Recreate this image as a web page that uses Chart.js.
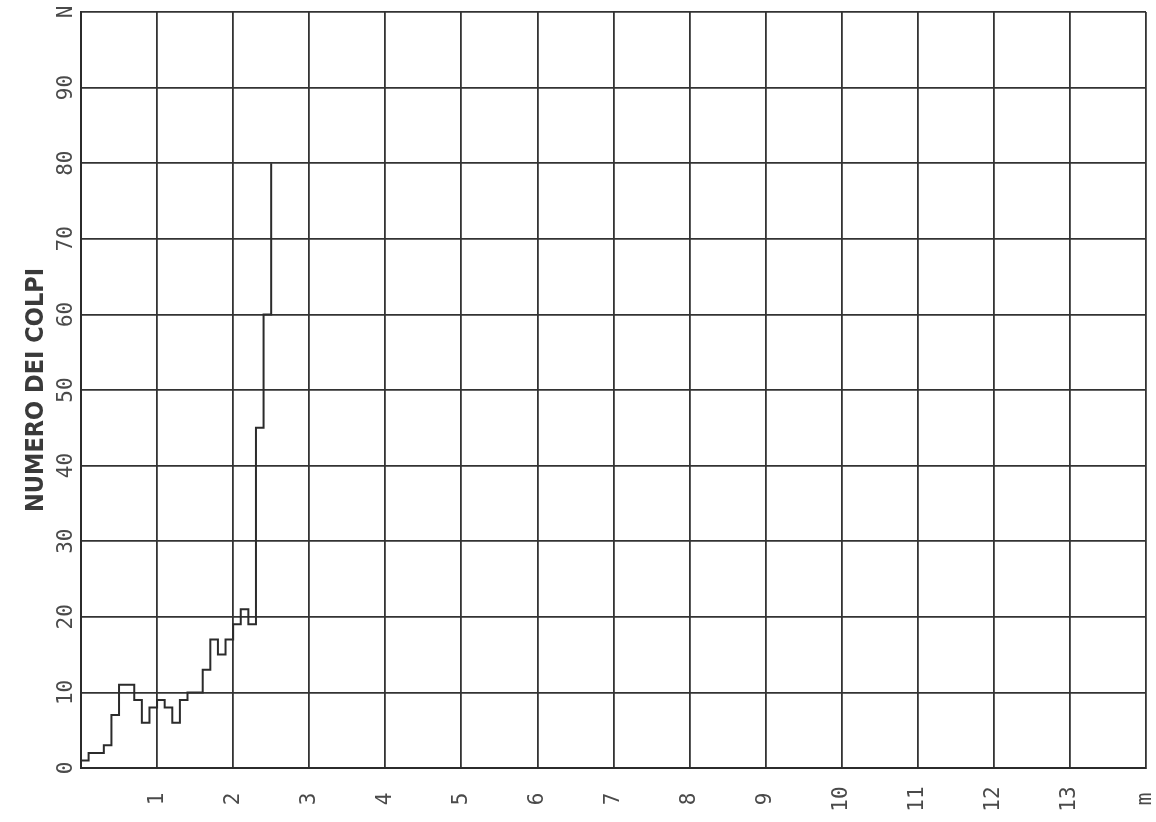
<!DOCTYPE html>
<html>
<head>
<meta charset="utf-8">
<title>Numero dei colpi</title>
<script src="https://cdn.jsdelivr.net/npm/chart.js@4"></script>
<style>
  body { margin: 0; background: #fff; }
  #chart { display: block; }
</style>
</head>
<body>
<canvas id="chart" width="1156" height="822"></canvas>
<script>
// depth (m) and number of blows per step
const depth = [0, 0.1, 0.2, 0.3, 0.4, 0.5, 0.6, 0.7, 0.8, 0.9, 1.0, 1.1, 1.2, 1.3, 1.4, 1.5, 1.6, 1.7, 1.8, 1.9, 2.0, 2.1, 2.2, 2.3, 2.4, 2.5];
const colpi = [1, 2, 2, 3, 7, 11, 11, 9, 6, 8, 9, 8, 6, 9, 10, 10, 13, 17, 15, 17, 19, 21, 19, 45, 60, 80];

// axis labels
const xTickValues = [1, 2, 3, 4, 5, 6, 7, 8, 9, 10, 11, 12, 13, 14];
const xTickLabels = ['1', '2', '3', '4', '5', '6', '7', '8', '9', '10', '11', '12', '13', 'm'];
const yTickValues = [0, 10, 20, 30, 40, 50, 60, 70, 80, 90, 100];
const yTickLabels = ['0', '10', '20', '30', '40', '50', '60', '70', '80', '90', 'N'];
const yTitle = 'NUMERO DEI COLPI';

const points = depth.map((d, i) => ({ x: d, y: colpi[i] }));

// draws the rotated tick labels (chart.js does not rotate y ticks)
const rotatedTicks = {
  id: 'rotatedTicks',
  afterDraw(chart) {
    const ctx = chart.ctx;
    const xs = chart.scales.x;
    const ys = chart.scales.y;
    ctx.save();
    ctx.font = '21px "DejaVu Sans Mono"';
    ctx.fillStyle = '#4a4a4a';
    ctx.textAlign = 'center';
    ctx.textBaseline = 'middle';
    xTickValues.forEach((v, i) => {
      ctx.save();
      ctx.translate(xs.getPixelForValue(v), xs.top + 31);
      ctx.rotate(-Math.PI / 2);
      ctx.fillText(xTickLabels[i], 0, 0);
      ctx.restore();
    });
    yTickValues.forEach((v, i) => {
      ctx.save();
      ctx.translate(ys.right - 14, ys.getPixelForValue(v));
      ctx.rotate(-Math.PI / 2);
      ctx.fillText(yTickLabels[i], 0, 0);
      ctx.restore();
    });
    ctx.restore();
  }
};

new Chart(document.getElementById('chart'), {
  type: 'line',
  data: {
    datasets: [{
      data: points,
      stepped: true,
      borderColor: '#2b2b2b',
      borderWidth: 2,
      pointRadius: 0,
      fill: false
    }]
  },
  options: {
    responsive: false,
    animation: false,
    layout: { padding: { top: 12, right: 10, left: 0, bottom: 0 } },
    plugins: {
      legend: { display: false },
      tooltip: { enabled: false }
    },
    scales: {
      x: {
        type: 'linear',
        min: 0,
        max: 14,
        ticks: { display: false, stepSize: 1 },
        grid: { color: '#333', lineWidth: 1.8, drawTicks: false },
        border: { color: '#2b2b2b', width: 2 },
        afterFit: (scale) => { scale.height = 54; }
      },
      y: {
        type: 'linear',
        min: 0,
        max: 100,
        ticks: { display: false, stepSize: 10 },
        grid: { color: '#333', lineWidth: 1.8, drawTicks: false },
        border: { color: '#2b2b2b', width: 2 },
        title: {
          display: true,
          text: yTitle,
          color: '#3a3a3a',
          font: { family: '"DejaVu Sans Condensed", "Liberation Sans Narrow", sans-serif', size: 25, weight: '600' },
          padding: { top: 21, bottom: 0 }
        },
        afterFit: (scale) => { scale.width = 81; }
      }
    }
  },
  plugins: [rotatedTicks]
});
</script>
</body>
</html>
